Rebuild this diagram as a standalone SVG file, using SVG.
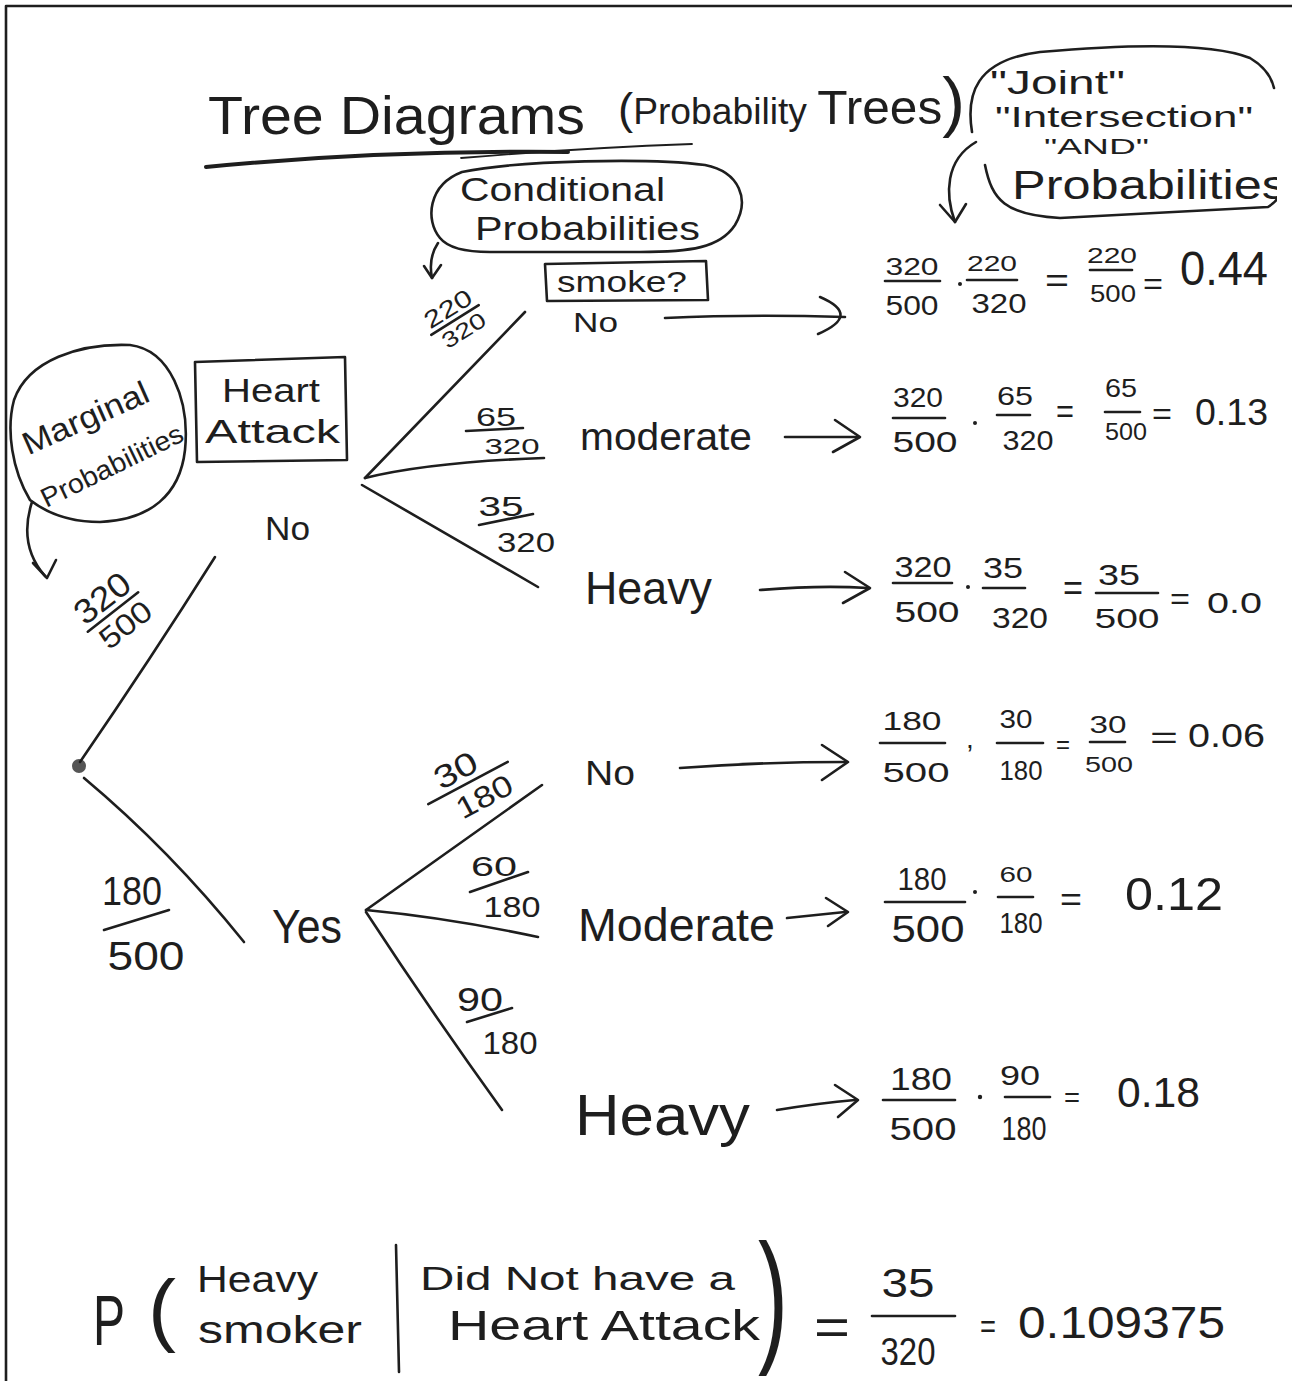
<svg xmlns="http://www.w3.org/2000/svg" width="1292" height="1381" viewBox="0 0 1292 1381">
<defs>
<style>
.t{font-family:"Liberation Sans","DejaVu Sans",sans-serif;fill:#1e1e1e}
.m{text-anchor:middle}
.s{fill:none;stroke:#1e1e1e;stroke-width:2.6;stroke-linecap:round;stroke-linejoin:round}
.th{stroke-width:4}
.tn{stroke-width:1.8}
</style>
<clipPath id="pg"><rect x="0" y="0" width="1277" height="1381"/></clipPath>
</defs>
<rect width="1292" height="1381" fill="#ffffff"/>
<path class="s" d="M6,1381 V6 H1292" stroke-width="4" stroke-linecap="butt"/>
<g clip-path="url(#pg)">

<g id="title">
<text class="t" x="208" y="134" font-size="54" textLength="377" lengthAdjust="spacingAndGlyphs">Tree Diagrams</text>
<text class="t" x="618" y="124" textLength="347" lengthAdjust="spacingAndGlyphs"><tspan font-size="44">(</tspan><tspan font-size="36">Probability </tspan><tspan font-size="48">Trees</tspan><tspan font-size="66">)</tspan></text>
<path class="s th" d="M206,167 Q380,150 568,152"/>
<path class="s tn" d="M461,158 Q580,148 692,144"/>
</g>

<g id="joint-note">
<path class="s" d="M972,132 C966,95 975,60 1040,52 C1120,45 1210,42 1250,58 Q1270,70 1274,88"/>
<path class="s" d="M985,165 C992,200 1005,215 1060,218 L1268,207 Q1276,202 1280,195"/>
<text class="t" x="990" y="94" font-size="34" textLength="135" lengthAdjust="spacingAndGlyphs">"Joint"</text>
<text class="t" x="995" y="127" font-size="29" textLength="258" lengthAdjust="spacingAndGlyphs">"Intersection"</text>
<text class="t" x="1044" y="154" font-size="22" textLength="105" lengthAdjust="spacingAndGlyphs">"AND"</text>
<text class="t" x="1012" y="199" font-size="40" textLength="275" lengthAdjust="spacingAndGlyphs">Probabilities</text>
</g>

<g id="conditional-note">
<path class="s" d="M440,238 C425,220 428,185 462,172 C520,160 650,158 705,165 C740,172 750,200 735,225 C720,248 690,252 640,252 L490,252 C465,252 448,248 440,238"/>
<text class="t" x="460" y="201" font-size="33" textLength="205" lengthAdjust="spacingAndGlyphs">Conditional</text>
<text class="t" x="475" y="240" font-size="33" textLength="225" lengthAdjust="spacingAndGlyphs">Probabilities</text>
</g>

<g id="marginal-note">
<path class="s" d="M30,500 C12,470 6,430 14,400 C28,360 80,343 130,345 C170,350 190,400 185,450 C180,495 150,520 100,522 C70,522 48,514 30,500"/>
<text class="t m" transform="translate(90,428) rotate(-24)" font-size="32" textLength="135" lengthAdjust="spacingAndGlyphs">Marginal</text>
<text class="t m" transform="translate(116,474) rotate(-26)" font-size="27" textLength="155" lengthAdjust="spacingAndGlyphs">Probabilities</text>
</g>

<g id="heart-attack-header">
<path class="s" d="M195,362 L345,357 L347,460 L197,462 Z"/>
<text class="t" x="222" y="402" font-size="34" textLength="98" lengthAdjust="spacingAndGlyphs">Heart</text>
<text class="t" x="205" y="443" font-size="34" textLength="135" lengthAdjust="spacingAndGlyphs">Attack</text>
</g>

<g id="smoke-header">
<path class="s" d="M545,264 L706,261 L708,300 L547,301 Z"/>
<text class="t" x="557" y="292" font-size="30" textLength="130" lengthAdjust="spacingAndGlyphs">smoke?</text>
</g>

<g id="root">
<circle cx="79" cy="766" r="7" fill="#555"/>
</g>

<g id="ha-no">
<text class="t" x="265" y="540" font-size="34" textLength="45" lengthAdjust="spacingAndGlyphs">No</text>
</g>
<g id="ha-yes">
<text class="t" x="272" y="943" font-size="48" textLength="70" lengthAdjust="spacingAndGlyphs">Yes</text>
</g>

<g id="no-none"><text class="t" x="573" y="332" font-size="28" textLength="45" lengthAdjust="spacingAndGlyphs">No</text></g>
<g id="no-moderate"><text class="t" x="580" y="450" font-size="38" textLength="172" lengthAdjust="spacingAndGlyphs">moderate</text></g>
<g id="no-heavy"><text class="t" x="585" y="604" font-size="46" textLength="127" lengthAdjust="spacingAndGlyphs">Heavy</text></g>
<g id="yes-none"><text class="t" x="585" y="785" font-size="35" textLength="50" lengthAdjust="spacingAndGlyphs">No</text></g>
<g id="yes-moderate"><text class="t" x="578" y="941" font-size="46" textLength="197" lengthAdjust="spacingAndGlyphs">Moderate</text></g>
<g id="yes-heavy"><text class="t" x="575" y="1135" font-size="58" textLength="175" lengthAdjust="spacingAndGlyphs">Heavy</text></g>

<g id="connectors">
<path class="s" d="M80,762 Q150,660 215,557"/>
<path class="s" d="M84,778 Q170,850 244,942"/>
<path class="s" d="M365,478 L525,312"/>
<path class="s" d="M365,478 Q430,462 544,458"/>
<path class="s" d="M362,485 Q440,530 538,587"/>
<path class="s" d="M366,910 L542,785"/>
<path class="s" d="M366,910 Q450,918 538,937"/>
<path class="s" d="M366,912 Q430,1010 502,1110"/>
<path class="s" d="M665,318 Q750,314 845,317"/>
<path class="s" d="M820,297 Q862,315 818,334"/>
<path class="s" d="M785,437 L858,437"/>
<path class="s" d="M835,420 L860,437 L833,452"/>
<path class="s" d="M760,590 Q820,585 868,588"/>
<path class="s" d="M845,572 L870,588 L843,603"/>
<path class="s" d="M680,768 Q760,762 845,762"/>
<path class="s" d="M822,745 L848,762 L822,780"/>
<path class="s" d="M787,918 L845,912"/>
<path class="s" d="M826,898 L848,912 L828,926"/>
<path class="s" d="M777,1110 Q820,1103 855,1100"/>
<path class="s" d="M835,1085 L858,1100 L838,1117"/>
<path class="s" d="M976,142 C945,160 945,195 955,222"/>
<path class="s" d="M940,205 L955,222 L966,204"/>
<path class="s" d="M438,243 Q428,258 432,278"/>
<path class="s" d="M424,266 L432,278 L441,265"/>
<path class="s" d="M32,502 Q18,545 45,576"/>
<path class="s" d="M33,563 L47,578 L56,560"/>
</g>

<g id="branch-probabilities">
<g transform="translate(113,612) rotate(-38)">
<text class="t m" x="0" y="-6" font-size="34" textLength="62" lengthAdjust="spacingAndGlyphs">320</text>
<line class="s" x1="-32" y1="0" x2="32" y2="0"/>
<text class="t m" x="2" y="28" font-size="30" textLength="58" lengthAdjust="spacingAndGlyphs">500</text>
</g>
<text class="t m" x="132" y="905" font-size="40" textLength="60" lengthAdjust="spacingAndGlyphs">180</text>
<path class="s" d="M104,930 L169,910"/>
<text class="t m" x="146" y="970" font-size="40" textLength="77" lengthAdjust="spacingAndGlyphs">500</text>
<g transform="translate(455,320) rotate(-32)">
<text class="t m" x="0" y="-5" font-size="24" textLength="52" lengthAdjust="spacingAndGlyphs">220</text>
<line class="s" x1="-28" y1="0" x2="28" y2="0"/>
<text class="t m" x="2" y="21" font-size="22" textLength="48" lengthAdjust="spacingAndGlyphs">320</text>
</g>
<text class="t m" x="496" y="426" font-size="26" textLength="40" lengthAdjust="spacingAndGlyphs">65</text>
<path class="s" d="M466,431 L523,428"/>
<text class="t m" x="512" y="454" font-size="22" textLength="55" lengthAdjust="spacingAndGlyphs">320</text>
<text class="t m" x="501" y="516" font-size="28" textLength="45" lengthAdjust="spacingAndGlyphs">35</text>
<path class="s" d="M479,525 L533,514"/>
<text class="t m" x="526" y="552" font-size="28" textLength="58" lengthAdjust="spacingAndGlyphs">320</text>
<g transform="translate(468,783) rotate(-28)">
<text class="t m" x="-5" y="-6" font-size="32" textLength="45" lengthAdjust="spacingAndGlyphs">30</text>
<line class="s" x1="-45" y1="0" x2="45" y2="0"/>
<text class="t m" x="8" y="30" font-size="30" textLength="60" lengthAdjust="spacingAndGlyphs">180</text>
</g>
<text class="t m" x="494" y="876" font-size="27" textLength="46" lengthAdjust="spacingAndGlyphs">60</text>
<path class="s" d="M470,892 L528,872"/>
<text class="t m" x="512" y="917" font-size="30" textLength="57" lengthAdjust="spacingAndGlyphs">180</text>
<text class="t m" x="480" y="1011" font-size="33" textLength="46" lengthAdjust="spacingAndGlyphs">90</text>
<path class="s" d="M467,1022 L512,1008"/>
<text class="t m" x="510" y="1054" font-size="32" textLength="55" lengthAdjust="spacingAndGlyphs">180</text>
</g>

<g id="joint-no-none">
<text class="t m" x="912" y="275" font-size="24" textLength="53" lengthAdjust="spacingAndGlyphs">320</text>
<line class="s" x1="885" y1="281" x2="940" y2="281"/>
<text class="t m" x="912" y="315" font-size="28" textLength="53" lengthAdjust="spacingAndGlyphs">500</text>
<circle cx="960" cy="284" r="2" fill="#1e1e1e"/>
<text class="t m" x="992" y="271" font-size="22" textLength="50" lengthAdjust="spacingAndGlyphs">220</text>
<line class="s" x1="967" y1="280" x2="1017" y2="280"/>
<text class="t m" x="999" y="313" font-size="28" textLength="55" lengthAdjust="spacingAndGlyphs">320</text>
<text class="t" x="1045" y="292" font-size="34" textLength="24" lengthAdjust="spacingAndGlyphs">=</text>
<text class="t m" x="1112" y="263" font-size="22" textLength="50" lengthAdjust="spacingAndGlyphs">220</text>
<line class="s" x1="1090" y1="270" x2="1132" y2="270"/>
<text class="t m" x="1113" y="302" font-size="24" textLength="46" lengthAdjust="spacingAndGlyphs">500</text>
<text class="t" x="1143" y="294" font-size="30" textLength="20" lengthAdjust="spacingAndGlyphs">=</text>
<text class="t" x="1180" y="285" font-size="48" textLength="88" lengthAdjust="spacingAndGlyphs">0.44</text>
</g>

<g id="joint-no-moderate">
<text class="t m" x="918" y="407" font-size="28" textLength="50" lengthAdjust="spacingAndGlyphs">320</text>
<line class="s" x1="893" y1="418" x2="945" y2="418"/>
<text class="t m" x="925" y="452" font-size="30" textLength="65" lengthAdjust="spacingAndGlyphs">500</text>
<circle cx="975" cy="423" r="2" fill="#1e1e1e"/>
<text class="t m" x="1015" y="405" font-size="26" textLength="36" lengthAdjust="spacingAndGlyphs">65</text>
<line class="s" x1="997" y1="415" x2="1030" y2="415"/>
<text class="t m" x="1028" y="450" font-size="28" textLength="51" lengthAdjust="spacingAndGlyphs">320</text>
<text class="t" x="1056" y="423" font-size="34" textLength="18" lengthAdjust="spacingAndGlyphs">=</text>
<text class="t m" x="1121" y="397" font-size="26" textLength="32" lengthAdjust="spacingAndGlyphs">65</text>
<line class="s" x1="1105" y1="412" x2="1140" y2="412"/>
<text class="t m" x="1126" y="440" font-size="24" textLength="42" lengthAdjust="spacingAndGlyphs">500</text>
<text class="t" x="1152" y="424" font-size="30" textLength="20" lengthAdjust="spacingAndGlyphs">=</text>
<text class="t" x="1195" y="425" font-size="36" textLength="73" lengthAdjust="spacingAndGlyphs">0.13</text>
</g>

<g id="joint-no-heavy">
<text class="t m" x="923" y="577" font-size="30" textLength="57" lengthAdjust="spacingAndGlyphs">320</text>
<line class="s" x1="893" y1="583" x2="952" y2="583"/>
<text class="t m" x="927" y="622" font-size="30" textLength="65" lengthAdjust="spacingAndGlyphs">500</text>
<circle cx="968" cy="587" r="2" fill="#1e1e1e"/>
<text class="t m" x="1003" y="578" font-size="30" textLength="40" lengthAdjust="spacingAndGlyphs">35</text>
<line class="s" x1="983" y1="588" x2="1025" y2="588"/>
<text class="t m" x="1020" y="628" font-size="30" textLength="56" lengthAdjust="spacingAndGlyphs">320</text>
<text class="t" x="1063" y="600" font-size="36" textLength="20" lengthAdjust="spacingAndGlyphs">=</text>
<text class="t m" x="1119" y="585" font-size="30" textLength="42" lengthAdjust="spacingAndGlyphs">35</text>
<line class="s" x1="1096" y1="593" x2="1158" y2="593"/>
<text class="t m" x="1127" y="628" font-size="28" textLength="65" lengthAdjust="spacingAndGlyphs">500</text>
<text class="t" x="1170" y="609" font-size="30" textLength="20" lengthAdjust="spacingAndGlyphs">=</text>
<text class="t" x="1207" y="613" font-size="30" textLength="55" lengthAdjust="spacingAndGlyphs">0.0</text>
</g>

<g id="joint-yes-none">
<text class="t m" x="912" y="730" font-size="26" textLength="59" lengthAdjust="spacingAndGlyphs">180</text>
<line class="s" x1="880" y1="743" x2="945" y2="743"/>
<text class="t m" x="916" y="782" font-size="28" textLength="67" lengthAdjust="spacingAndGlyphs">500</text>
<text class="t" x="966" y="748" font-size="28">,</text>
<text class="t m" x="1016" y="728" font-size="26" textLength="33" lengthAdjust="spacingAndGlyphs">30</text>
<line class="s" x1="997" y1="743" x2="1043" y2="743"/>
<text class="t m" x="1021" y="780" font-size="28" textLength="43" lengthAdjust="spacingAndGlyphs">180</text>
<text class="t" x="1056" y="753" font-size="26" textLength="14" lengthAdjust="spacingAndGlyphs">=</text>
<text class="t m" x="1108" y="733" font-size="24" textLength="37" lengthAdjust="spacingAndGlyphs">30</text>
<line class="s" x1="1090" y1="742" x2="1125" y2="742"/>
<text class="t m" x="1109" y="772" font-size="22" textLength="48" lengthAdjust="spacingAndGlyphs">500</text>
<text class="t" x="1150" y="748" font-size="32" textLength="28" lengthAdjust="spacingAndGlyphs">=</text>
<text class="t" x="1188" y="747" font-size="34" textLength="77" lengthAdjust="spacingAndGlyphs">0.06</text>
</g>

<g id="joint-yes-moderate">
<text class="t m" x="922" y="890" font-size="32" textLength="49" lengthAdjust="spacingAndGlyphs">180</text>
<line class="s" x1="885" y1="902" x2="965" y2="902"/>
<text class="t m" x="928" y="942" font-size="36" textLength="73" lengthAdjust="spacingAndGlyphs">500</text>
<circle cx="975" cy="892" r="2" fill="#1e1e1e"/>
<text class="t m" x="1016" y="882" font-size="22" textLength="33" lengthAdjust="spacingAndGlyphs">60</text>
<line class="s" x1="998" y1="897" x2="1033" y2="897"/>
<text class="t m" x="1021" y="933" font-size="30" textLength="43" lengthAdjust="spacingAndGlyphs">180</text>
<text class="t" x="1060" y="911" font-size="34" textLength="22" lengthAdjust="spacingAndGlyphs">=</text>
<text class="t" x="1125" y="910" font-size="46" textLength="98" lengthAdjust="spacingAndGlyphs">0.12</text>
</g>

<g id="joint-yes-heavy">
<text class="t m" x="921" y="1090" font-size="32" textLength="62" lengthAdjust="spacingAndGlyphs">180</text>
<line class="s" x1="883" y1="1100" x2="955" y2="1100"/>
<text class="t m" x="923" y="1140" font-size="32" textLength="67" lengthAdjust="spacingAndGlyphs">500</text>
<circle cx="980" cy="1097" r="2.2" fill="#1e1e1e"/>
<text class="t m" x="1020" y="1085" font-size="28" textLength="40" lengthAdjust="spacingAndGlyphs">90</text>
<line class="s" x1="1005" y1="1097" x2="1050" y2="1097"/>
<text class="t m" x="1024" y="1140" font-size="34" textLength="45" lengthAdjust="spacingAndGlyphs">180</text>
<text class="t" x="1064" y="1107" font-size="28" textLength="16" lengthAdjust="spacingAndGlyphs">=</text>
<text class="t" x="1117" y="1107" font-size="42" textLength="83" lengthAdjust="spacingAndGlyphs">0.18</text>
</g>

<g id="conditional-result">
<text class="t" x="93" y="1345" font-size="70" textLength="32" lengthAdjust="spacingAndGlyphs">P</text>
<text class="t" x="148" y="1336" font-size="80" textLength="28" lengthAdjust="spacingAndGlyphs">(</text>
<text class="t" x="197" y="1292" font-size="36" textLength="121" lengthAdjust="spacingAndGlyphs">Heavy</text>
<text class="t" x="198" y="1343" font-size="38" textLength="164" lengthAdjust="spacingAndGlyphs">smoker</text>
<path class="s" d="M396,1245 L399,1372" stroke-width="3"/>
<text class="t" x="420" y="1290" font-size="34" textLength="315" lengthAdjust="spacingAndGlyphs">Did Not have a</text>
<text class="t" x="448" y="1340" font-size="42" textLength="312" lengthAdjust="spacingAndGlyphs">Heart Attack</text>
<text class="t" x="758" y="1346" font-size="146" textLength="30" lengthAdjust="spacingAndGlyphs">)</text>
<text class="t" x="814" y="1345" font-size="52" textLength="36" lengthAdjust="spacingAndGlyphs">=</text>
<text class="t m" x="908" y="1297" font-size="40" textLength="53" lengthAdjust="spacingAndGlyphs">35</text>
<line class="s" x1="872" y1="1316" x2="955" y2="1316" stroke-width="3"/>
<text class="t m" x="908" y="1365" font-size="38" textLength="55" lengthAdjust="spacingAndGlyphs">320</text>
<text class="t" x="980" y="1338" font-size="34" textLength="16" lengthAdjust="spacingAndGlyphs">=</text>
<text class="t" x="1018" y="1338" font-size="44" textLength="207" lengthAdjust="spacingAndGlyphs">0.109375</text>
</g>

</g>
</svg>
